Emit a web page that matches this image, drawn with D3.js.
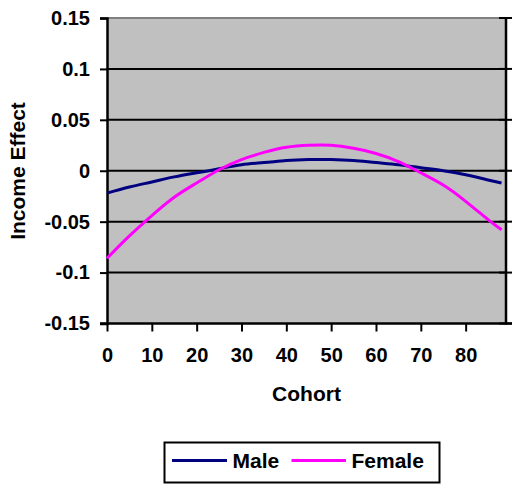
<!DOCTYPE html>
<html>
<head>
<meta charset="utf-8">
<script src="https://cdn.jsdelivr.net/npm/d3@7"></script>
<style>
  html, body { margin: 0; padding: 0; background: #fff; }
  svg { display: block; }
  text { font-family: "Liberation Sans", Arial, sans-serif; font-weight: bold; fill: #000; }
</style>
</head>
<body>
<svg id="chart" width="512" height="487"></svg>
<script>
// Cohort positions and the estimated income effect for each group
const cohorts = [0, 5, 10, 15, 20, 25, 30, 35, 40, 45, 50, 55, 60, 65, 70, 75, 80, 85, 88];
const maleEffect = [-0.022, -0.016, -0.011, -0.006, -0.002, 0.002, 0.006, 0.008, 0.010, 0.011,
                    0.011, 0.010, 0.008, 0.006, 0.003, 0.000, -0.004, -0.009, -0.012];
const femaleEffect = [-0.086, -0.064, -0.044, -0.026, -0.012, 0.001, 0.011, 0.018, 0.023, 0.025,
                      0.025, 0.022, 0.017, 0.009, -0.002, -0.014, -0.030, -0.048, -0.058];

const xTicks = [0, 10, 20, 30, 40, 50, 60, 70, 80];
const yTicks = [-0.15, -0.1, -0.05, 0, 0.05, 0.1, 0.15];
const yTickLabels = ["-0.15", "-0.1", "-0.05", "0", "0.05", "0.1", "0.15"];

const seriesNames = ["Male", "Female"];
const seriesColors = ["#000080", "#FF00FF"];

const svg = d3.select("#chart");
const plotLeft = 107, plotRight = 506, plotTop = 18, plotBottom = 323.5;

const x = d3.scaleLinear().domain([0, 89]).range([plotLeft, plotRight]);
const y = d3.scaleLinear().domain([-0.15, 0.15]).range([plotBottom, plotTop]);

// plot area
svg.append("rect")
  .attr("x", plotLeft).attr("y", plotTop)
  .attr("width", plotRight - plotLeft).attr("height", plotBottom - plotTop)
  .attr("fill", "#C0C0C0");

// top border of plot area
svg.append("line")
  .attr("x1", plotLeft).attr("x2", plotRight)
  .attr("y1", plotTop).attr("y2", plotTop)
  .attr("stroke", "#808080").attr("stroke-width", 2);

// horizontal gridlines
svg.append("g").selectAll("line")
  .data(yTicks.filter(v => v > -0.15 && v < 0.15))
  .join("line")
  .attr("x1", plotLeft).attr("x2", plotRight)
  .attr("y1", d => y(d)).attr("y2", d => y(d))
  .attr("stroke", "#000").attr("stroke-width", 2);

// left value axis
const yAxis = d3.axisLeft(y)
  .tickValues(yTicks)
  .tickSize(7)
  .tickPadding(10)
  .tickFormat((d, i) => yTickLabels[i]);
const gy = svg.append("g").attr("transform", `translate(${plotLeft},0)`).call(yAxis);
gy.select(".domain").attr("stroke", "#000").attr("stroke-width", 2.5);
gy.selectAll(".tick line").attr("stroke", "#000").attr("stroke-width", 2);
gy.selectAll(".tick text")
  .style("font-family", "'Liberation Sans', Arial, sans-serif")
  .style("font-weight", "bold").style("font-size", "20px").attr("fill", "#000");

// right axis with crossing tick marks
const gr = svg.append("g");
gr.append("line")
  .attr("x1", plotRight).attr("x2", plotRight).attr("y1", plotTop - 1).attr("y2", plotBottom + 1)
  .attr("stroke", "#000").attr("stroke-width", 2.5);
gr.selectAll("line.rt")
  .data(yTicks)
  .join("line").attr("class", "rt")
  .attr("x1", plotRight - 7).attr("x2", plotRight + 6)
  .attr("y1", d => y(d)).attr("y2", d => y(d))
  .attr("stroke", "#000").attr("stroke-width", 2);

// bottom category axis
const xAxis = d3.axisBottom(x)
  .tickValues(xTicks)
  .tickSize(8)
  .tickPadding(16)
  .tickFormat(d3.format("d"));
const gx = svg.append("g").attr("transform", `translate(0,${plotBottom})`).call(xAxis);
gx.select(".domain").attr("stroke", "#000").attr("stroke-width", 2.5)
  .attr("d", `M${plotLeft - 7},0H${plotRight + 6}`);
gx.selectAll(".tick line").attr("stroke", "#000").attr("stroke-width", 2);
gx.selectAll(".tick text")
  .style("font-family", "'Liberation Sans', Arial, sans-serif")
  .style("font-weight", "bold").style("font-size", "20px").attr("fill", "#000");

// series lines
const line = d3.line()
  .x(d => x(d[0]))
  .y(d => y(d[1]))
  .curve(d3.curveNatural);

[maleEffect, femaleEffect].forEach((vals, i) => {
  svg.append("path")
    .datum(cohorts.map((c, j) => [c, vals[j]]))
    .attr("d", line)
    .attr("fill", "none")
    .attr("stroke", seriesColors[i])
    .attr("stroke-width", 3)
    .attr("stroke-linejoin", "round");
});

// axis titles
svg.append("text")
  .attr("x", (plotLeft + plotRight) / 2).attr("y", 401)
  .attr("text-anchor", "middle")
  .style("font-size", "21px")
  .text("Cohort");

svg.append("text")
  .attr("transform", "translate(25,171) rotate(-90)")
  .attr("text-anchor", "middle")
  .style("font-size", "21px")
  .text("Income Effect");

// legend
const lg = svg.append("g");
lg.append("rect")
  .attr("x", 164.5).attr("y", 442.5)
  .attr("width", 275).attr("height", 40)
  .attr("fill", "#fff").attr("stroke", "#000").attr("stroke-width", 2);
const legendItems = [
  { x1: 172, x2: 227, tx: 232.5 },
  { x1: 291.5, x2: 346, tx: 351.5 }
];
legendItems.forEach((it, i) => {
  lg.append("line")
    .attr("x1", it.x1).attr("x2", it.x2)
    .attr("y1", 460.5).attr("y2", 460.5)
    .attr("stroke", seriesColors[i]).attr("stroke-width", 3);
  lg.append("text")
    .attr("x", it.tx).attr("y", 467.5)
    .style("font-size", "21px")
    .text(seriesNames[i]);
});
</script>
</body>
</html>
